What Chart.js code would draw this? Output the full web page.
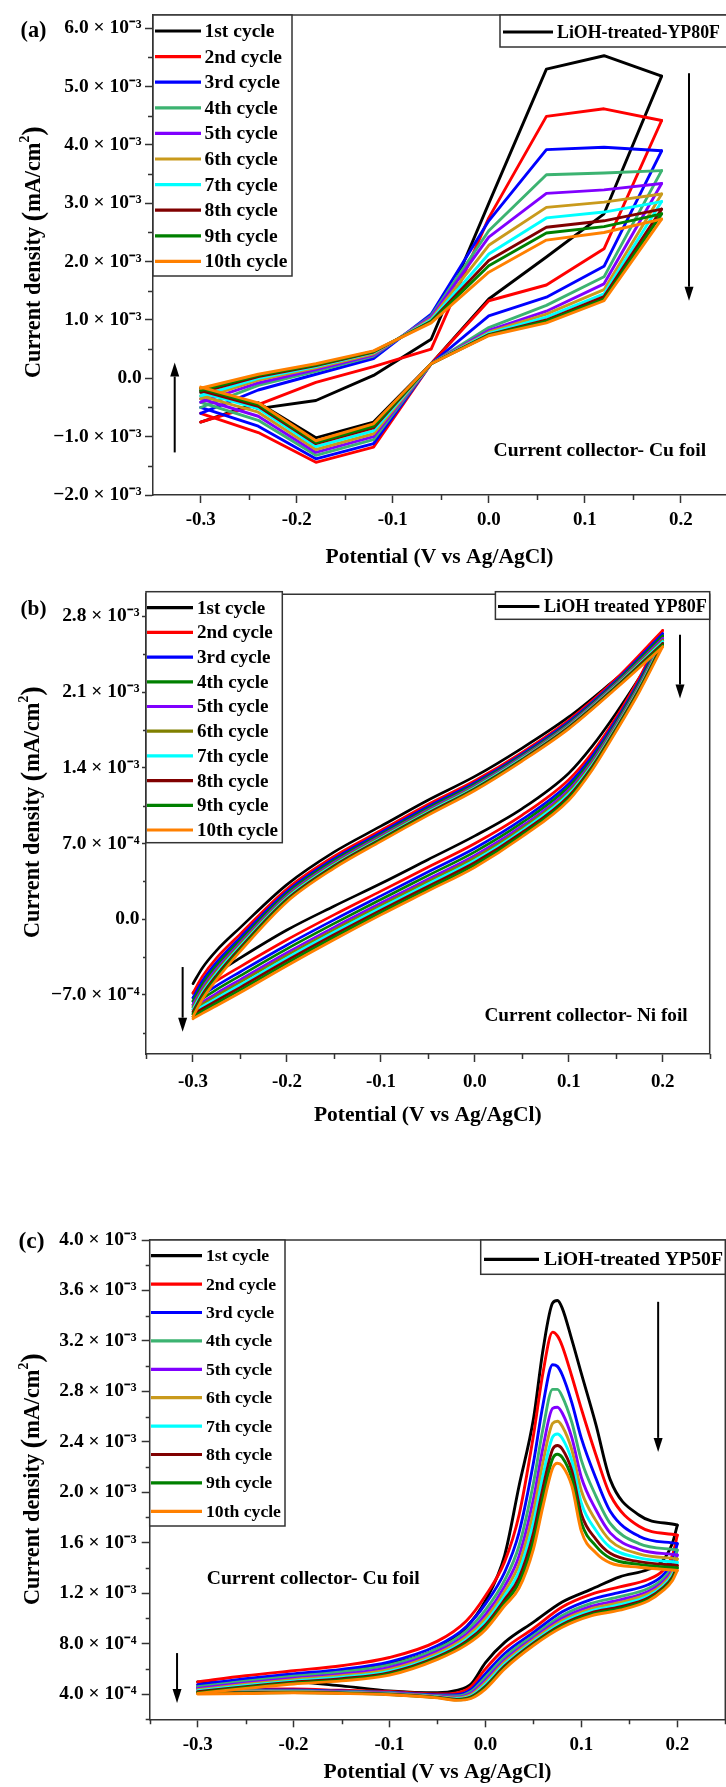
<!DOCTYPE html>
<html>
<head>
<meta charset="utf-8">
<script src="https://cdn.jsdelivr.net/npm/chart.js@4.4.1/dist/chart.umd.min.js"></script>
<style>
html,body{margin:0;padding:0;background:#fff;overflow:hidden}
#wrap{position:relative;width:726px;height:1787px;background:#fff}
canvas{position:absolute;left:0;display:block}
</style>
</head>
<body>
<div id="wrap">
<canvas id="ca" width="726" height="580" style="top:0;width:726px;height:580px"></canvas>
<canvas id="cb" width="726" height="560" style="top:580px;width:726px;height:560px"></canvas>
<canvas id="cc" width="726" height="647" style="top:1140px;width:726px;height:647px"></canvas>
</div>
<script>
// ====================== DATA ======================
const cycleLabels = ['1st cycle','2nd cycle','3rd cycle','4th cycle','5th cycle','6th cycle','7th cycle','8th cycle','9th cycle','10th cycle'];

const xTicks = [-0.3,-0.2,-0.1,0,0.1,0.2];
const xTickLabels = ['-0.3','-0.2','-0.1','0.0','0.1','0.2'];
const xMinorTicks = [-0.35,-0.25,-0.15,-0.05,0.05,0.15,0.25];

// ---- Panel (a): LiOH-treated-YP80F, Cu foil ----
const aPotential = [-0.3,-0.24,-0.18,-0.12,-0.06,0,0.06,0.12,0.18];
const aForward = [
  [-0.17e-3,-0.52e-3,-0.38e-3,0.05e-3,0.67e-3,3.0e-3,5.3e-3,5.53e-3,5.18e-3],
  [-0.75e-3,-0.45e-3,-0.07e-3,0.2e-3,0.5e-3,2.75e-3,4.49e-3,4.62e-3,4.42e-3],
  [-0.6e-3,-0.2e-3,0.07e-3,0.34e-3,1.1e-3,2.7e-3,3.92e-3,3.96e-3,3.9e-3],
  [-0.5e-3,-0.12e-3,0.12e-3,0.38e-3,1.07e-3,2.53e-3,3.49e-3,3.52e-3,3.56e-3],
  [-0.41e-3,-0.08e-3,0.15e-3,0.4e-3,1.05e-3,2.42e-3,3.17e-3,3.23e-3,3.34e-3],
  [-0.35e-3,-0.03e-3,0.18e-3,0.42e-3,1.02e-3,2.28e-3,2.93e-3,3.02e-3,3.16e-3],
  [-0.3e-3,0.0,0.2e-3,0.44e-3,1.0e-3,2.13e-3,2.75e-3,2.85e-3,3.03e-3],
  [-0.24e-3,0.03e-3,0.22e-3,0.45e-3,0.98e-3,2.02e-3,2.59e-3,2.7e-3,2.9e-3],
  [-0.21e-3,0.05e-3,0.23e-3,0.46e-3,0.97e-3,1.93e-3,2.49e-3,2.6e-3,2.82e-3],
  [-0.17e-3,0.07e-3,0.25e-3,0.47e-3,0.95e-3,1.82e-3,2.37e-3,2.5e-3,2.73e-3]
];
const aReturn = [
  [-0.75e-3,-0.42e-3,-1.02e-3,-0.75e-3,0.25e-3,1.36e-3,2.08e-3,2.82e-3,5.18e-3],
  [-0.6e-3,-0.93e-3,-1.44e-3,-1.18e-3,0.25e-3,1.33e-3,1.6e-3,2.22e-3,4.42e-3],
  [-0.5e-3,-0.82e-3,-1.38e-3,-1.12e-3,0.25e-3,1.07e-3,1.39e-3,1.92e-3,3.9e-3],
  [-0.41e-3,-0.72e-3,-1.32e-3,-1.05e-3,0.25e-3,0.87e-3,1.25e-3,1.74e-3,3.56e-3],
  [-0.35e-3,-0.65e-3,-1.27e-3,-1.0e-3,0.25e-3,0.82e-3,1.15e-3,1.62e-3,3.34e-3],
  [-0.3e-3,-0.58e-3,-1.22e-3,-0.95e-3,0.25e-3,0.79e-3,1.1e-3,1.52e-3,3.16e-3],
  [-0.24e-3,-0.52e-3,-1.17e-3,-0.9e-3,0.25e-3,0.77e-3,1.05e-3,1.45e-3,3.03e-3],
  [-0.21e-3,-0.48e-3,-1.12e-3,-0.85e-3,0.25e-3,0.75e-3,1.0e-3,1.4e-3,2.9e-3],
  [-0.17e-3,-0.45e-3,-1.1e-3,-0.82e-3,0.25e-3,0.74e-3,0.98e-3,1.36e-3,2.82e-3],
  [-0.15e-3,-0.42e-3,-1.07e-3,-0.78e-3,0.25e-3,0.73e-3,0.95e-3,1.33e-3,2.73e-3]
];
const aYTicks = [-2e-3,-1e-3,0,1e-3,2e-3,3e-3,4e-3,5e-3,6e-3];
const aYTickLabels = ['−2.0 × 10⁻³','−1.0 × 10⁻³','0.0','1.0 × 10⁻³','2.0 × 10⁻³','3.0 × 10⁻³','4.0 × 10⁻³','5.0 × 10⁻³','6.0 × 10⁻³'];
const aYMinor = [-1.5e-3,-0.5e-3,0.5e-3,1.5e-3,2.5e-3,3.5e-3,4.5e-3,5.5e-3];

// ---- Panel (b): LiOH treated YP80F, Ni foil ----
const bPotentialF = [-0.3,-0.29,-0.275,-0.25,-0.2,-0.15,-0.1,-0.05,0,0.05,0.1,0.15,0.2];
const bForward = [
  [-5.96e-4,-4.5e-4,-2.9e-4,-0.8e-4,3.2e-4,6.2e-4,8.6e-4,11.0e-4,13.2e-4,15.8e-4,18.7e-4,22.2e-4,25.8e-4],
  [-6.82e-4,-5.3e-4,-3.6e-4,-1.4e-4,2.8e-4,5.8e-4,8.2e-4,10.6e-4,12.8e-4,15.4e-4,18.4e-4,22.2e-4,26.7e-4],
  [-7.26e-4,-5.72e-4,-4.0e-4,-1.72e-4,2.56e-4,5.58e-4,8.0e-4,10.4e-4,12.62e-4,15.24e-4,18.24e-4,22.02e-4,26.4e-4],
  [-7.58e-4,-6.04e-4,-4.3e-4,-1.96e-4,2.38e-4,5.42e-4,7.85e-4,10.25e-4,12.49e-4,15.12e-4,18.12e-4,21.89e-4,26.18e-4],
  [-7.91e-4,-6.35e-4,-4.6e-4,-2.2e-4,2.2e-4,5.25e-4,7.7e-4,10.1e-4,12.35e-4,15.0e-4,18.0e-4,21.75e-4,25.95e-4],
  [-8.13e-4,-6.56e-4,-4.8e-4,-2.36e-4,2.08e-4,5.14e-4,7.6e-4,10.0e-4,12.26e-4,14.92e-4,17.92e-4,21.66e-4,25.8e-4],
  [-8.35e-4,-6.77e-4,-5.0e-4,-2.52e-4,1.96e-4,5.03e-4,7.5e-4,9.9e-4,12.17e-4,14.84e-4,17.84e-4,21.57e-4,25.65e-4],
  [-8.56e-4,-6.98e-4,-5.2e-4,-2.68e-4,1.84e-4,4.92e-4,7.4e-4,9.8e-4,12.08e-4,14.76e-4,17.76e-4,21.48e-4,25.5e-4],
  [-8.78e-4,-7.19e-4,-5.4e-4,-2.84e-4,1.72e-4,4.81e-4,7.3e-4,9.7e-4,11.99e-4,14.68e-4,17.68e-4,21.39e-4,25.35e-4],
  [-9.0e-4,-7.4e-4,-5.6e-4,-3.0e-4,1.6e-4,4.7e-4,7.2e-4,9.6e-4,11.9e-4,14.6e-4,17.6e-4,21.3e-4,25.2e-4]
];
const bPotentialR = [-0.3,-0.29,-0.275,-0.25,-0.2,-0.15,-0.1,-0.05,0,0.05,0.1,0.125,0.15,0.175,0.2];
const bReturn = [
  [-6.82e-4,-6.0e-4,-5.0e-4,-3.6e-4,-1.0e-4,1.2e-4,3.3e-4,5.5e-4,7.7e-4,10.2e-4,13.5e-4,16.0e-4,19.0e-4,22.3e-4,25.8e-4],
  [-7.26e-4,-6.6e-4,-5.7e-4,-4.4e-4,-1.9e-4,0.4e-4,2.6e-4,4.8e-4,7.0e-4,9.6e-4,12.9e-4,15.4e-4,18.6e-4,22.3e-4,26.7e-4],
  [-7.58e-4,-7.02e-4,-6.16e-4,-4.88e-4,-2.38e-4,-0.06e-4,2.16e-4,4.36e-4,6.56e-4,9.2e-4,12.52e-4,15.08e-4,18.34e-4,22.04e-4,26.4e-4],
  [-7.91e-4,-7.34e-4,-6.51e-4,-5.24e-4,-2.74e-4,-0.41e-4,1.83e-4,4.03e-4,6.23e-4,8.9e-4,12.24e-4,14.84e-4,18.15e-4,21.85e-4,26.18e-4],
  [-8.13e-4,-7.65e-4,-6.85e-4,-5.6e-4,-3.1e-4,-0.75e-4,1.5e-4,3.7e-4,5.9e-4,8.6e-4,11.95e-4,14.6e-4,17.95e-4,21.65e-4,25.95e-4],
  [-8.35e-4,-7.86e-4,-7.08e-4,-5.84e-4,-3.34e-4,-0.98e-4,1.28e-4,3.48e-4,5.68e-4,8.4e-4,11.76e-4,14.44e-4,17.82e-4,21.52e-4,25.8e-4],
  [-8.56e-4,-8.07e-4,-7.31e-4,-6.08e-4,-3.58e-4,-1.21e-4,1.06e-4,3.26e-4,5.46e-4,8.2e-4,11.57e-4,14.28e-4,17.69e-4,21.39e-4,25.65e-4],
  [-8.78e-4,-8.28e-4,-7.54e-4,-6.32e-4,-3.82e-4,-1.44e-4,0.84e-4,3.04e-4,5.24e-4,8.0e-4,11.38e-4,14.12e-4,17.56e-4,21.26e-4,25.5e-4],
  [-9.0e-4,-8.49e-4,-7.77e-4,-6.56e-4,-4.06e-4,-1.67e-4,0.62e-4,2.82e-4,5.02e-4,7.8e-4,11.19e-4,13.96e-4,17.43e-4,21.13e-4,25.35e-4],
  [-9.2e-4,-8.7e-4,-8.0e-4,-6.8e-4,-4.3e-4,-1.9e-4,0.4e-4,2.6e-4,4.8e-4,7.6e-4,11.0e-4,13.8e-4,17.3e-4,21.0e-4,25.2e-4]
];
const bYTicks = [-7e-4,0,7e-4,14e-4,21e-4,28e-4];
const bYTickLabels = ['−7.0 × 10⁻⁴','0.0','7.0 × 10⁻⁴','1.4 × 10⁻³','2.1 × 10⁻³','2.8 × 10⁻³'];
const bYMinor = [-10.5e-4,-3.5e-4,3.5e-4,10.5e-4,17.5e-4,24.5e-4];

// ---- Panel (c): LiOH-treated YP50F, Cu foil ----
const cPotentialF = [-0.3,-0.25,-0.2,-0.15,-0.1,-0.05,-0.02,0,0.02,0.035,0.05,0.06,0.07,0.075,0.08,0.09,0.1,0.115,0.13,0.16,0.2];
const cForward = [
  [4.5e-4,5.0e-4,5.4e-4,5.8e-4,6.4e-4,7.6e-4,9.3e-4,11.4e-4,15.0e-4,20.5e-4,25.8e-4,31.3e-4,35.0e-4,35.2e-4,34.6e-4,32.1e-4,29.4e-4,25.4e-4,21.0e-4,18.2e-4,17.4e-4],
  [4.97e-4,5.45e-4,5.85e-4,6.25e-4,6.9e-4,8.2e-4,9.8e-4,11.8e-4,14.5e-4,18.2e-4,24.5e-4,29.5e-4,32.7e-4,32.4e-4,31.6e-4,29.2e-4,26.6e-4,23.0e-4,19.8e-4,17.3e-4,16.6e-4],
  [4.75e-4,5.21e-4,5.6e-4,5.96e-4,6.56e-4,7.85e-4,9.34e-4,11.15e-4,13.66e-4,16.81e-4,22.34e-4,26.96e-4,30.11e-4,29.98e-4,29.32e-4,27.11e-4,24.27e-4,21.13e-4,18.5e-4,16.52e-4,15.93e-4],
  [4.58e-4,5.03e-4,5.41e-4,5.75e-4,6.31e-4,7.59e-4,9.0e-4,10.67e-4,13.03e-4,15.76e-4,20.72e-4,25.05e-4,28.16e-4,28.16e-4,27.61e-4,25.55e-4,22.53e-4,19.72e-4,17.53e-4,15.93e-4,15.42e-4],
  [4.45e-4,4.89e-4,5.26e-4,5.58e-4,6.12e-4,7.39e-4,8.74e-4,10.29e-4,12.54e-4,14.95e-4,19.46e-4,23.56e-4,26.65e-4,26.74e-4,26.28e-4,24.33e-4,21.17e-4,18.63e-4,16.78e-4,15.48e-4,15.03e-4],
  [4.35e-4,4.78e-4,5.15e-4,5.45e-4,5.96e-4,7.23e-4,8.53e-4,9.99e-4,12.15e-4,14.31e-4,18.47e-4,22.4e-4,25.46e-4,25.63e-4,25.23e-4,23.37e-4,20.1e-4,17.77e-4,16.18e-4,15.12e-4,14.72e-4],
  [4.26e-4,4.68e-4,5.04e-4,5.33e-4,5.82e-4,7.08e-4,8.34e-4,9.72e-4,11.8e-4,13.73e-4,17.57e-4,21.34e-4,24.38e-4,24.62e-4,24.28e-4,22.5e-4,19.13e-4,16.99e-4,15.64e-4,14.8e-4,14.44e-4],
  [4.18e-4,4.59e-4,4.95e-4,5.22e-4,5.7e-4,6.95e-4,8.17e-4,9.48e-4,11.49e-4,13.21e-4,16.76e-4,20.38e-4,23.41e-4,23.71e-4,23.43e-4,21.72e-4,18.26e-4,16.29e-4,15.16e-4,14.5e-4,14.19e-4],
  [4.11e-4,4.52e-4,4.87e-4,5.13e-4,5.6e-4,6.85e-4,8.03e-4,9.29e-4,11.24e-4,12.81e-4,16.13e-4,19.64e-4,22.66e-4,23.01e-4,22.76e-4,21.11e-4,17.58e-4,15.75e-4,14.78e-4,14.28e-4,14.0e-4],
  [4.05e-4,4.45e-4,4.8e-4,5.05e-4,5.5e-4,6.75e-4,7.9e-4,9.1e-4,11.0e-4,12.4e-4,15.5e-4,18.9e-4,21.9e-4,22.3e-4,22.1e-4,20.5e-4,16.9e-4,15.2e-4,14.4e-4,14.05e-4,13.8e-4]
];
const cPotentialR = [-0.3,-0.25,-0.2,-0.15,-0.1,-0.05,-0.03,-0.015,0,0.02,0.05,0.08,0.11,0.14,0.17,0.185,0.195,0.2];
const cReturn = [
  [4.97e-4,4.8e-4,4.95e-4,4.65e-4,4.25e-4,4.1e-4,4.3e-4,4.8e-4,6.5e-4,8.1e-4,9.7e-4,11.3e-4,12.3e-4,13.3e-4,13.9e-4,14.6e-4,16.0e-4,17.4e-4],
  [4.75e-4,4.45e-4,4.4e-4,4.3e-4,4.2e-4,4.0e-4,4.1e-4,4.6e-4,6.0e-4,7.6e-4,9.2e-4,10.9e-4,11.9e-4,12.5e-4,13.1e-4,13.8e-4,15.0e-4,16.6e-4],
  [4.58e-4,4.35e-4,4.33e-4,4.24e-4,4.14e-4,3.93e-4,3.96e-4,4.37e-4,5.62e-4,7.22e-4,8.88e-4,10.52e-4,11.49e-4,12.06e-4,12.69e-4,13.42e-4,14.52e-4,15.93e-4],
  [4.45e-4,4.28e-4,4.27e-4,4.2e-4,4.1e-4,3.87e-4,3.85e-4,4.2e-4,5.33e-4,6.93e-4,8.63e-4,10.23e-4,11.19e-4,11.72e-4,12.39e-4,13.13e-4,14.16e-4,15.42e-4],
  [4.35e-4,4.23e-4,4.23e-4,4.16e-4,4.06e-4,3.83e-4,3.76e-4,4.07e-4,5.1e-4,6.7e-4,8.44e-4,10.0e-4,10.95e-4,11.46e-4,12.15e-4,12.9e-4,13.88e-4,15.03e-4],
  [4.26e-4,4.18e-4,4.2e-4,4.13e-4,4.03e-4,3.8e-4,3.7e-4,3.96e-4,4.93e-4,6.53e-4,8.3e-4,9.83e-4,10.76e-4,11.26e-4,11.96e-4,12.73e-4,13.66e-4,14.72e-4],
  [4.18e-4,4.14e-4,4.17e-4,4.11e-4,4.01e-4,3.77e-4,3.64e-4,3.87e-4,4.77e-4,6.37e-4,8.16e-4,9.67e-4,10.59e-4,11.08e-4,11.79e-4,12.57e-4,13.46e-4,14.44e-4],
  [4.11e-4,4.11e-4,4.14e-4,4.09e-4,3.99e-4,3.74e-4,3.58e-4,3.78e-4,4.62e-4,6.22e-4,8.04e-4,9.52e-4,10.44e-4,10.91e-4,11.64e-4,12.42e-4,13.28e-4,14.19e-4],
  [4.05e-4,4.08e-4,4.12e-4,4.07e-4,3.97e-4,3.72e-4,3.54e-4,3.72e-4,4.51e-4,6.11e-4,7.94e-4,9.41e-4,10.32e-4,10.78e-4,11.52e-4,12.31e-4,13.14e-4,14.0e-4],
  [4.0e-4,4.05e-4,4.1e-4,4.05e-4,3.95e-4,3.7e-4,3.5e-4,3.65e-4,4.4e-4,6.0e-4,7.85e-4,9.3e-4,10.2e-4,10.65e-4,11.4e-4,12.2e-4,13.0e-4,13.8e-4]
];
const cYTicks = [4e-4,8e-4,12e-4,16e-4,20e-4,24e-4,28e-4,32e-4,36e-4,40e-4];
const cYTickLabels = ['4.0 × 10⁻⁴','8.0 × 10⁻⁴','1.2 × 10⁻³','1.6 × 10⁻³','2.0 × 10⁻³','2.4 × 10⁻³','2.8 × 10⁻³','3.2 × 10⁻³','3.6 × 10⁻³','4.0 × 10⁻³'];
const cYMinor = [2e-4,6e-4,10e-4,14e-4,18e-4,22e-4,26e-4,30e-4,34e-4,38e-4];

// arrows [potential, from current, to current]; text notes [text, potential, current]
const aArrows = [[-0.327,-1.27e-3,0.27e-3],[0.2085,5.23e-3,1.33e-3]];
const bArrows = [[-0.311,-4.42e-4,-10.4e-4],[0.2184,26.3e-4,20.4e-4]];
const cArrows = [[0.18,35.1e-4,23.2e-4],[-0.3215,7.25e-4,3.29e-4]];
const aNote = ['Current collector- Cu foil', 0.1156, -1.25e-3];
const bNote = ['Current collector- Ni foil', 0.1184, -8.96e-4];
const cNote = ['Current collector- Cu foil', -0.1795, 13.12e-4];

// ====================== STYLE / LAYOUT ======================
const FONT = "'Liberation Serif','Times New Roman',serif";
const colorsAC = ['#000000','#ff0000','#0000ff','#3cb371','#8000ff','#c99a1c','#00ffff','#800000','#008000','#ff8000'];
const colorsB  = ['#000000','#ff0000','#0000ff','#008000','#8000ff','#808000','#00ffff','#800000','#008000','#ff8000'];

const mctx = document.createElement('canvas').getContext('2d');
function textW(text, size) { mctx.font = 'bold ' + size + 'px ' + FONT; return mctx.measureText(text).width; }
function fitSize(text, width) { return 100 * width / textW(text, 100); }

function points(xs, ys) { return xs.map((x, j) => ({x: x, y: ys[j]})); }

function buildDatasets(xF, fwd, xR, ret, colors, smooth, lw) {
  const out = [];
  fwd.forEach((ys, i) => {
    const style = {
      borderColor: colors[i], backgroundColor: colors[i], borderWidth: lw,
      pointRadius: 0, pointHoverRadius: 0, showLine: true, fill: false,
      order: fwd.length - i, tension: 0,
      cubicInterpolationMode: smooth ? 'monotone' : 'default',
      borderJoinStyle: 'round', borderCapStyle: 'round'
    };
    out.push(Object.assign({label: cycleLabels[i], data: points(xF, ys)}, style));
    out.push(Object.assign({label: cycleLabels[i] + ' return', data: points(xR, ret[i])}, style));
  });
  return out;
}

function drawYTitle(ctx, cx, cy, totalW) {
  const parts = [['Current density ', 1, 0], ['(', 1.3, 0.02], ['mA/cm', 1, 0], ['2', 0.62, -0.4], [')', 1.3, 0.02]];
  let w100 = 0;
  parts.forEach(p => { w100 += textW(p[0], 100 * p[1]); });
  const F = 100 * totalW / w100;
  ctx.save();
  ctx.translate(cx, cy); ctx.rotate(-Math.PI / 2);
  ctx.textBaseline = 'middle'; ctx.textAlign = 'left'; ctx.fillStyle = '#000';
  let x = -totalW / 2;
  parts.forEach(p => {
    ctx.font = 'bold ' + (F * p[1]) + 'px ' + FONT;
    ctx.fillText(p[0], x, p[2] * F);
    x += ctx.measureText(p[0]).width;
  });
  ctx.restore();
}

const decoById = {};

const decoPlugin = {
  id: 'deco',
  afterDraw(chart) {
    const P = decoById[chart.canvas.id];
    if (!P) return;
    const ctx = chart.ctx, ca = chart.chartArea, xs = chart.scales.x, ys = chart.scales.y;
    ctx.save();
    ctx.strokeStyle = '#333'; ctx.lineWidth = 1.5;
    ctx.beginPath();
    ctx.moveTo(ca.left, ca.top); ctx.lineTo(ca.right, ca.top);
    if (P.rightBorder) ctx.lineTo(ca.right, ca.bottom);
    ctx.stroke();
    // minor ticks
    ctx.beginPath();
    P.minorX.forEach(v => {
      if (v < xs.min - 1e-9 || v > xs.max + 1e-9) return;
      const px = Math.round(xs.getPixelForValue(v)) + 0.5;
      ctx.moveTo(px, ca.bottom); ctx.lineTo(px, ca.bottom + P.minorLenX);
    });
    P.minorY.forEach(v => {
      if (v < ys.min - 1e-12 || v > ys.max + 1e-12) return;
      const py = Math.round(ys.getPixelForValue(v)) + 0.5;
      ctx.moveTo(ca.left - P.minorLenY, py); ctx.lineTo(ca.left, py);
    });
    ctx.stroke();
    // legends
    P.legends.forEach(L => {
      ctx.fillStyle = '#fff';
      ctx.fillRect(L.box[0], L.box[1], L.box[2] - L.box[0], L.box[3] - L.box[1]);
      ctx.strokeStyle = '#333'; ctx.lineWidth = 1.5;
      ctx.strokeRect(L.box[0], L.box[1], L.box[2] - L.box[0], L.box[3] - L.box[1]);
      const size = fitSize(L.fitText, L.fitWidth);
      ctx.font = 'bold ' + size + 'px ' + FONT;
      ctx.textBaseline = 'middle'; ctx.textAlign = 'left';
      L.labels.forEach((t, i) => {
        const y = L.rowY + i * L.rowStep;
        ctx.strokeStyle = L.colors[i]; ctx.lineWidth = 3.2;
        ctx.beginPath(); ctx.moveTo(L.sample[0], y); ctx.lineTo(L.sample[1], y); ctx.stroke();
        ctx.fillStyle = '#000';
        ctx.fillText(t, L.textX, y + 1);
      });
    });
    // arrows
    ctx.strokeStyle = '#000'; ctx.fillStyle = '#000'; ctx.lineWidth = 2;
    P.arrows.forEach(a => {
      const px = xs.getPixelForValue(a[0]);
      const p0 = ys.getPixelForValue(a[1]);
      const p1 = ys.getPixelForValue(a[2]);
      const dir = Math.sign(p1 - p0), head = 14, hw = 4.5;
      ctx.beginPath(); ctx.moveTo(px, p0); ctx.lineTo(px, p1 - dir * head); ctx.stroke();
      ctx.beginPath(); ctx.moveTo(px, p1); ctx.lineTo(px - hw, p1 - dir * head); ctx.lineTo(px + hw, p1 - dir * head); ctx.closePath(); ctx.fill();
    });
    // note
    ctx.font = 'bold ' + fitSize(P.note[0], P.noteWidth) + 'px ' + FONT;
    ctx.textAlign = 'center'; ctx.textBaseline = 'middle'; ctx.fillStyle = '#000';
    ctx.fillText(P.note[0], xs.getPixelForValue(P.note[1]), ys.getPixelForValue(P.note[2]));
    // panel label
    ctx.font = 'bold ' + fitSize(P.panel[0], 26) + 'px ' + FONT;
    ctx.textAlign = 'left';
    ctx.fillText(P.panel[0], P.panel[1], P.panel[2]);
    // y title
    drawYTitle(ctx, P.yTitle[0], P.yTitle[1], 252);
    ctx.restore();
  }
};

const xTickSize = fitSize('-0.3', 30);
const xTitleSize = fitSize('Potential (V vs Ag/AgCl)', 228);
const yTickSize = fitSize('6.0 × 10⁻³', 77);

function makeChart(id, W, H, area, xRange, yRange, yTicks, yLabels, datasets, tick) {
  return new Chart(document.getElementById(id), {
    type: 'scatter',
    data: {datasets: datasets},
    options: {
      responsive: false, animation: false, devicePixelRatio: 1,
      layout: {padding: {top: area.top, right: W - area.right, left: 0, bottom: 0}},
      plugins: {legend: {display: false}, tooltip: {enabled: false}},
      scales: {
        x: {
          type: 'linear', position: 'bottom', min: xRange[0], max: xRange[1],
          afterFit: s => { s.height = H - area.bottom; },
          afterBuildTicks: s => { s.ticks = xTicks.map(v => ({value: v})); },
          ticks: {callback: (v, i) => xTickLabels[i], autoSkip: false, maxRotation: 0, minRotation: 0,
                  padding: tick.xPad, color: '#000', font: {family: FONT, size: xTickSize, weight: 'bold'}},
          grid: {display: true, drawOnChartArea: false, drawTicks: true, tickLength: tick.xLen, tickWidth: 1.5, tickColor: '#333'},
          border: {display: true, color: '#333', width: 1.5},
          title: {display: true, text: 'Potential (V vs Ag/AgCl)', color: '#000',
                  font: {family: FONT, size: xTitleSize, weight: 'bold'}, padding: {top: 0, bottom: tick.xTitlePad}}
        },
        y: {
          type: 'linear', position: 'left', min: yRange[0], max: yRange[1],
          afterFit: s => { s.width = area.left; },
          afterBuildTicks: s => { s.ticks = yTicks.map(v => ({value: v})); },
          ticks: {callback: (v, i) => yLabels[i], autoSkip: false, padding: tick.yPad, color: '#000',
                  font: {family: FONT, size: yTickSize, weight: 'bold'}},
          grid: {display: true, drawOnChartArea: false, drawTicks: true, tickLength: tick.yLen, tickWidth: 1.5, tickColor: '#333'},
          border: {display: true, color: '#333', width: 1.5},
          title: {display: false}
        }
      }
    },
    plugins: [decoPlugin]
  });
}

// ---- panel (a)
decoById.ca = {
  rightBorder: false, minorX: xMinorTicks, minorY: aYMinor, minorLenX: 5, minorLenY: 5,
  arrows: aArrows, note: aNote, noteWidth: 212.6,
  panel: ['(a)', 20.5, 31.5], yTitle: [34, 252],
  legends: [
    {box: [153, 15, 292, 276], rowY: 31, rowStep: 25.6, sample: [155, 201], textX: 204.5, fitText: '10th cycle', fitWidth: 83, labels: cycleLabels, colors: colorsAC},
    {box: [500, 15, 740, 47], rowY: 32, rowStep: 0, sample: [503, 553], textX: 557, fitText: 'LiOH-treated-YP80F', fitWidth: 163, labels: ['LiOH-treated-YP80F'], colors: ['#000']}
  ]
};
makeChart('ca', 726, 580, {left: 153, top: 15, right: 726, bottom: 495}, [-0.3496, 0.247], [-2e-3, 6.228e-3],
  aYTicks, aYTickLabels, buildDatasets(aPotential, aForward, aPotential, aReturn, colorsAC, false, 2.9),
  {xPad: 6, xLen: 8, yPad: 3.3, yLen: 8, xTitlePad: 10});

// ---- panel (b)
decoById.cb = {
  rightBorder: true, minorX: xMinorTicks, minorY: bYMinor, minorLenX: 5, minorLenY: 3,
  arrows: bArrows, note: bNote, noteWidth: 203.3,
  panel: ['(b)', 20.5, 29.5], yTitle: [33, 232],
  legends: [
    {box: [146, 11.7, 282.3, 262.7], rowY: 27.7, rowStep: 24.7, sample: [147, 193], textX: 197, fitText: '10th cycle', fitWidth: 81, labels: cycleLabels, colors: colorsB},
    {box: [495.4, 11.7, 709.7, 39.3], rowY: 26.5, rowStep: 0, sample: [498, 539.4], textX: 544, fitText: 'LiOH treated YP80F', fitWidth: 163, labels: ['LiOH treated YP80F'], colors: ['#000']}
  ]
};
makeChart('cb', 726, 560, {left: 146, top: 11.7, right: 709.7, bottom: 474}, [-0.35, 0.25], [-1.246e-3, 3.005e-3],
  bYTicks, bYTickLabels, buildDatasets(bPotentialF, bForward, bPotentialR, bReturn, colorsB, true, 2.7),
  {xPad: 8.5, xLen: 8, yPad: 2.5, yLen: 4, xTitlePad: 11.6});

// ---- panel (c)
decoById.cc = {
  rightBorder: true, minorX: xMinorTicks, minorY: cYMinor, minorLenX: 5, minorLenY: 4,
  arrows: cArrows, note: cNote, noteWidth: 213,
  panel: ['(c)', 18.5, 102], yTitle: [33, 339],
  legends: [
    {box: [149.7, 100, 285, 386], rowY: 115.7, rowStep: 28.4, sample: [151, 202], textX: 206, fitText: '10th cycle', fitWidth: 75, labels: cycleLabels, colors: colorsAC},
    {box: [480.7, 100, 725.3, 134.3], rowY: 119.3, rowStep: 0, sample: [484, 539], textX: 544, fitText: 'LiOH-treated YP50F', fitWidth: 179, labels: ['LiOH-treated YP50F'], colors: ['#000']}
  ]
};
makeChart('cc', 726, 647, {left: 149.7, top: 100, right: 725.3, bottom: 579.3}, [-0.35, 0.25], [2e-4, 4e-3],
  cYTicks, cYTickLabels, buildDatasets(cPotentialF, cForward, cPotentialR, cReturn, colorsAC, true, 2.9),
  {xPad: 6, xLen: 8, yPad: 5, yLen: 8, xTitlePad: 1.4});
</script>
</body>
</html>
